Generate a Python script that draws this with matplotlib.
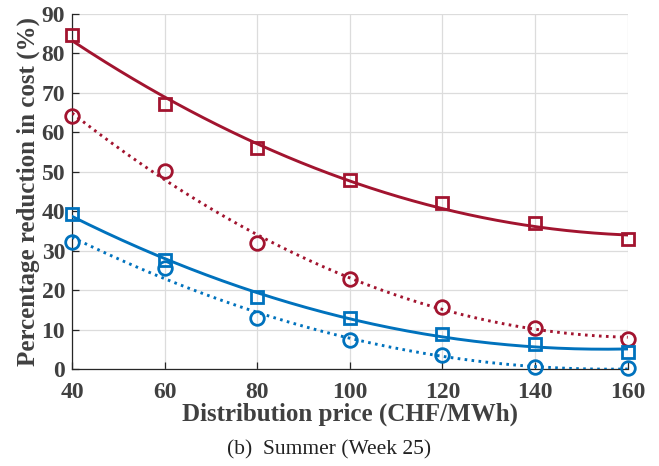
import numpy as np
import matplotlib
matplotlib.use("Agg")
import matplotlib.pyplot as plt

price = [40, 60, 80, 100, 120, 140, 160]
red_sq = [84.7, 67.2, 56.1, 47.9, 42.0, 37.1, 32.9]
red_ci = [64.2, 50.3, 32.1, 22.8, 15.9, 10.5, 7.8]
blue_sq = [39.3, 27.7, 18.4, 12.9, 8.9, 6.3, 4.5]
blue_ci = [32.3, 25.6, 13.1, 7.4, 3.6, 0.5, 0.25]
xticks = [40, 60, 80, 100, 120, 140, 160]
yticks = [0, 10, 20, 30, 40, 50, 60, 70, 80, 90]

RED = "#A2142F"
BLUE = "#0072BD"
TXT = "#404040"

plt.rcParams['font.family'] = ['Liberation Serif', 'DejaVu Serif']
plt.rcParams['font.weight'] = 'bold'

fig = plt.figure(figsize=(6.59, 4.66), dpi=100)
ax = fig.add_axes([0.1093, 0.2075, 0.8432, 0.7625])

xf = np.linspace(min(price), max(price), 200)
series = [(red_sq, RED, 's', '-'), (red_ci, RED, 'o', (0, (0.9, 1.5))),
          (blue_sq, BLUE, 's', '-'), (blue_ci, BLUE, 'o', (0, (0.9, 1.5)))]
for ys, c, m, ls in series:
    p = np.polyfit(price, ys, 2)
    yf = np.clip(np.polyval(p, xf), 0, None)
    ax.plot(xf, yf, color=c, lw=2.1, ls=ls, zorder=3)
    ax.plot(price, ys, ls='none', marker=m, ms=8.8 if m == 's' else 9.8,
            mfc='none', mec=c, mew=2.0, zorder=4, clip_on=False)

ax.set_xlim(40, 160)
ax.set_ylim(0, 90)
ax.set_xticks(xticks)
ax.set_yticks(yticks)
ax.grid(True, color='#dcdcdc', lw=0.9)
ax.set_axisbelow(True)
for s in ['top', 'right']:
    ax.spines[s].set_visible(False)
for s in ['left', 'bottom']:
    ax.spines[s].set_color('#262626')
    ax.spines[s].set_linewidth(0.9)
ax.tick_params(direction='in', length=5, width=0.9, color='#262626',
               labelsize=17, labelcolor=TXT)
ax.tick_params(axis='x', pad=9)
ax.tick_params(axis='y', pad=5)
for lab in ax.get_xticklabels() + ax.get_yticklabels():
    lab.set_fontweight('bold')
ax.set_xlabel('Distribution price (CHF/MWh)', fontsize=18, fontweight='bold',
              color=TXT, labelpad=0)
ax.set_ylabel('Percentage reduction in cost (%)', fontsize=18, fontweight='bold',
              color=TXT, labelpad=1)
fig.text(0.5, 0.035, '(b)  Summer (Week 25)', ha='center', va='center',
         fontsize=15.5, fontweight='normal', color='#222222')

fig.savefig('out.png', dpi=100)
